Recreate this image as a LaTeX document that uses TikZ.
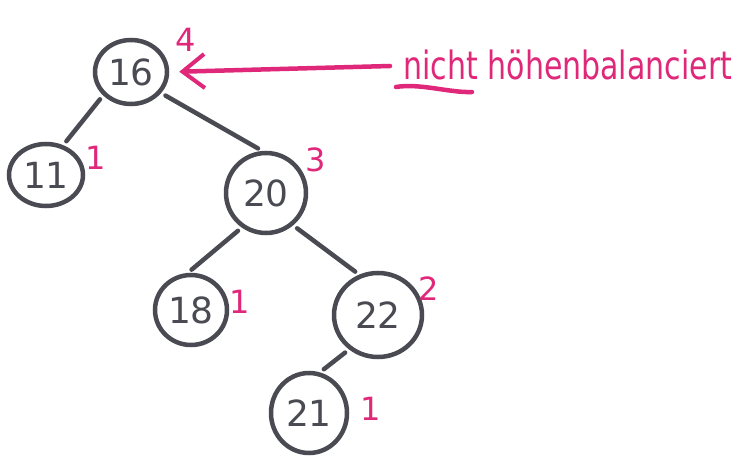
\documentclass[tikz,border=0pt]{standalone}
\usepackage{fontspec}
\setmainfont{DejaVu Sans}
\usetikzlibrary{shapes.geometric,arrows.meta}
\definecolor{ink}{HTML}{4A4B52}
\definecolor{marker}{HTML}{E0287A}
\tikzset{
  treenode/.style={ellipse,draw=ink,line width=4.5pt,text=ink,inner sep=0pt,
    font=\fontsize{36}{40}\selectfont},
  treeedge/.style={draw=ink,line width=4.5pt,line cap=round,shorten <=5pt,shorten >=5pt},
  height/.style={text=marker,font=\fontsize{32}{36}\selectfont},
  note/.style={draw=marker,line width=4.5pt,line cap=round},
}
\begin{document}
\begin{tikzpicture}[x=1pt,y=-1pt]
  \useasboundingbox[fill=white] (0,0) rectangle (736,457);
  % tree nodes
  \node[treenode,minimum width=72pt,minimum height=64pt] (n16) at (131,72) {16};
  \node[treenode,minimum width=74pt,minimum height=62pt] (n11) at (46,175) {11};
  \node[treenode,minimum width=80pt,minimum height=80pt] (n20) at (266,193) {20};
  \node[treenode,minimum width=72pt,minimum height=70pt] (n18) at (191,310) {18};
  \node[treenode,minimum width=88pt,minimum height=84pt] (n22) at (378,315) {22};
  \node[treenode,minimum width=76pt,minimum height=80pt] (n21) at (309,413) {21};
  % edges
  \draw[treeedge] (n16.-140) -- (n11.60);
  \draw[treeedge] (n16.-35) -- (n20.95);
  \draw[treeedge] (n20.-125) -- (n18.95);
  \draw[treeedge] (n20.-50) -- (n22.115);
  \draw[treeedge] (n22.-130) -- (n21.75);
  % subtree heights
  \node[height] (h16) at (186,40) {4};
  \node[height] (h11) at (96,158) {1};
  \node[height] (h20) at (316,160) {3};
  \node[height] (h18) at (240,302) {1};
  \node[height] (h22) at (429,289) {2};
  \node[height] (h21) at (371,409) {1};
  % annotation
  \coordinate (tail) at (390,66);
  \draw[note,-{Straight Barb[length=22pt,width=34pt,line width=4pt]}]
    (tail) -- (n16.east) [shorten >=10pt];
  \node[text=marker,font=\fontsize{30}{34}\selectfont,anchor=base west,yscale=1.3]
    (label) at (400,80) {nicht höhenbalanciert};
  \coordinate (ulA) at (396,87);
  \coordinate (ulB) at (472,92);
  \draw[note] (ulA) .. controls (420,83) and (450,93) .. (ulB);
\end{tikzpicture}
\end{document}
